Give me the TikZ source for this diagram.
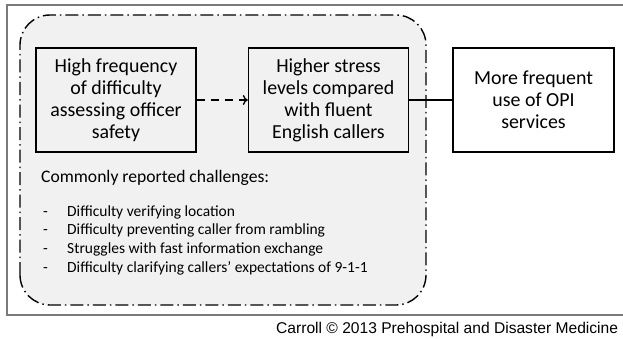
\documentclass[tikz,border=0pt]{standalone}
\usepackage{fontspec}
\usetikzlibrary{arrows.meta}
\setmainfont{Carlito}
\newfontfamily\capfont{Liberation Sans}
\definecolor{regiongray}{HTML}{F1F1F1}
\definecolor{framegray}{HTML}{7A7A7A}
\tikzset{
  factorbox/.style={draw=black,line width=1.4pt,minimum width=160pt,minimum height=104pt,
    align=center,font=\fontsize{19.9}{22}\selectfont,inner sep=0pt},
  itemtext/.style={anchor=base west,inner sep=0pt,font=\fontsize{15.5}{18}\selectfont},
}
\begin{document}
\begin{tikzpicture}[x=1pt,y=1pt]
\useasboundingbox (0,0) rectangle (623,338);

% outer frame
\draw[framegray,line width=1.6pt] (624,333) -- (7,333) -- (7,23) -- (624,23);

% region of common challenges
\draw[fill=regiongray,line width=1.4pt,rounded corners=30pt,
  dash pattern=on 13pt off 4pt on 1.5pt off 4pt] (20,33) rectangle (426,323);

\node[factorbox] (freq) at (116,238) {High frequency\\of difficulty\\assessing officer\\safety};
\node[factorbox] (stress) at (328.5,238) {Higher stress\\levels compared\\with fluent\\English callers};
\node[factorbox,minimum width=161pt] (opi) at (533.5,238) {More frequent\\use of OPI\\services};

\draw[line width=1.4pt,dash pattern=on 8pt off 6pt,-{To[length=5pt,width=10pt]}] (freq) -- (stress);
\draw[line width=1.4pt] (stress) -- (opi);

\node[itemtext,font=\fontsize{17.6}{20}\selectfont] (head) at (41,155.5) {Commonly reported challenges:};

\node[itemtext] (d1) at (43,122) {-};
\node[itemtext] (i1) at (67,122) {Difficulty verifying location};
\node[itemtext] (d2) at (43,103.3) {-};
\node[itemtext] (i2) at (67,103.3) {Difficulty preventing caller from rambling};
\node[itemtext] (d3) at (43,84.7) {-};
\node[itemtext] (i3) at (67,84.7) {Struggles with fast information exchange};
\node[itemtext] (d4) at (43,66) {-};
\node[itemtext] (i4) at (67,66) {Difficulty clarifying callers’ expectations of 9-1-1};

% credit line
\node[anchor=base west,inner sep=0pt,font=\capfont\fontsize{15.6}{18}\selectfont] (credit) at (276,5)
  {Carroll \textcopyright\ 2013 Prehospital and Disaster Medicine};
\end{tikzpicture}
\end{document}
